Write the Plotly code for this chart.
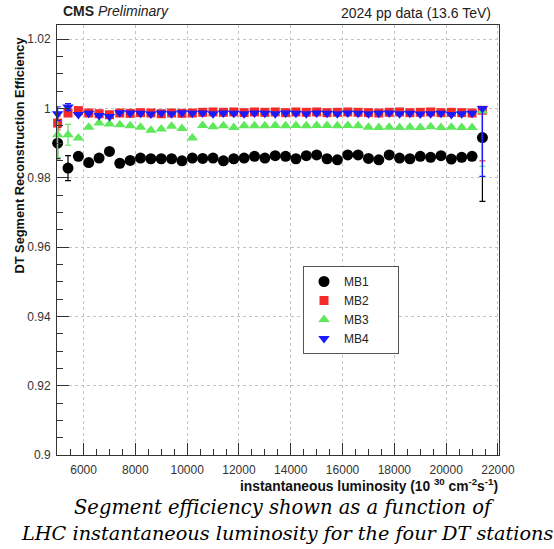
import plotly.graph_objects as go

# ---------------- data ----------------
lumi = [5000, 5400, 5800, 6200, 6600, 7000, 7400, 7800, 8200, 8600,
        9000, 9400, 9800, 10200, 10600, 11000, 11400, 11800, 12200, 12600,
        13000, 13400, 13800, 14200, 14600, 15000, 15400, 15800, 16200, 16600,
        17000, 17400, 17800, 18200, 18600, 19000, 19400, 19800, 20200, 20600,
        21000, 21400]

mb1 = [0.9900, 0.9828, 0.9862, 0.9844, 0.9857, 0.9876, 0.9842, 0.9850, 0.9857, 0.9855,
       0.9855, 0.9855, 0.9849, 0.9857, 0.9856, 0.9857, 0.9849, 0.9855, 0.9857, 0.9862,
       0.9857, 0.9864, 0.9862, 0.9855, 0.9864, 0.9866, 0.9855, 0.9852, 0.9866, 0.9866,
       0.9856, 0.9852, 0.9866, 0.9857, 0.9855, 0.9862, 0.9859, 0.9864, 0.9854, 0.9859,
       0.9862, 0.9916]
mb2 = [0.9958, 0.9987, 0.9994, 0.9987, 0.9985, 0.9982, 0.9987, 0.9986, 0.9988, 0.9987,
       0.9985, 0.9987, 0.9986, 0.9987, 0.9989, 0.9990, 0.9989, 0.9990, 0.9988, 0.9990,
       0.9989, 0.9990, 0.9988, 0.9990, 0.9989, 0.9990, 0.9988, 0.9989, 0.9990, 0.9989,
       0.9988, 0.9987, 0.9989, 0.9990, 0.9988, 0.9989, 0.9990, 0.9988, 0.9989, 0.9988,
       0.9987, 0.9995]
mb3 = [0.9924, 0.9924, 0.9915, 0.9946, 0.9958, 0.9955, 0.9953, 0.9950, 0.9946, 0.9937,
       0.9941, 0.9949, 0.9942, 0.9915, 0.9951, 0.9947, 0.9950, 0.9945, 0.9950, 0.9950,
       0.9950, 0.9951, 0.9950, 0.9951, 0.9950, 0.9951, 0.9951, 0.9950, 0.9951, 0.9950,
       0.9946, 0.9945, 0.9946, 0.9945, 0.9946, 0.9945, 0.9947, 0.9945, 0.9946, 0.9945,
       0.9945, 0.9993]
mb4 = [0.9985, 1.0004, 0.9983, 0.9986, 0.9980, 0.9977, 0.9988, 0.9987, 0.9986, 0.9984,
       0.9987, 0.9985, 0.9988, 0.9986, 0.9987, 0.9985, 0.9987, 0.9986, 0.9985, 0.9987,
       0.9986, 0.9985, 0.9987, 0.9986, 0.9985, 0.9987, 0.9986, 0.9985, 0.9987, 0.9986,
       0.9985, 0.9986, 0.9987, 0.9985, 0.9986, 0.9984, 0.9985, 0.9986, 0.9983, 0.9985,
       0.9986, 1.0000]

# asymmetric uncertainties (up, down)
mb1_up = [0.0045, 0.0036] + [0.0004] * 39 + [0.0080]
mb1_dn = [0.0045, 0.0036] + [0.0004] * 39 + [0.0184]
mb2_up = [0.0020, 0.0010] + [0.0002] * 39 + [0.0005]
mb2_dn = [0.0020, 0.0010] + [0.0002] * 39 + [0.0146]
mb3_up = [0.0065, 0.0030] + [0.0003] * 39 + [0.0007]
mb3_dn = [0.0065, 0.0030] + [0.0003] * 39 + [0.0160]
mb4_up = [0.0020, 0.0010] + [0.0002] * 39 + [0.0000]
mb4_dn = [0.0020, 0.0010] + [0.0002] * 39 + [0.0196]

series_names = ["MB1", "MB2", "MB3", "MB4"]
series_colors = ["#000000", "#f22a2a", "#5fe85a", "#1a1aff"]
series_symbols = ["circle", "square", "triangle-up", "triangle-down"]
series_sizes = [11, 9, 10, 10]

x_tick_vals = [6000, 8000, 10000, 12000, 14000, 16000, 18000, 20000, 22000]
y_tick_vals = [0.90, 0.92, 0.94, 0.96, 0.98, 1.00, 1.02]
y_tick_text = ["0.9", "0.92", "0.94", "0.96", "0.98", "1", "1.02"]

# ---------------- figure ----------------
W, H = 554, 549
L, R, T, B = 57, 55, 25, 94
PW, PH = W - L - R, H - T - B


def px_x(p):
    return (p - L) / PW


def px_y(p):
    return (H - B - p) / PH


fig = go.Figure()
values = [mb1, mb2, mb3, mb4]
ups = [mb1_up, mb2_up, mb3_up, mb4_up]
dns = [mb1_dn, mb2_dn, mb3_dn, mb4_dn]
pad_name = "\u00a0" * 7
for name, col, sym, sz, yv, eu, ed in zip(series_names, series_colors, series_symbols,
                                          series_sizes, values, ups, dns):
    fig.add_trace(go.Scatter(
        x=lumi, y=yv, mode="markers", name=name + pad_name, cliponaxis=False,
        marker=dict(color=col, symbol=sym, size=sz, line=dict(width=0)),
        error_y=dict(type="data", symmetric=False, array=eu, arrayminus=ed,
                     color=col, thickness=1.2, width=3),
    ))

font_main = "Liberation Sans, Arial, Helvetica, sans-serif"

fig.update_layout(
    width=W, height=H,
    margin=dict(l=L, r=R, t=T, b=B, pad=0),
    paper_bgcolor="white", plot_bgcolor="white",
    font=dict(family=font_main, size=12, color="#222"),
    showlegend=True,
    legend=dict(x=px_x(303), y=px_y(266), xanchor="left", yanchor="top",
                bgcolor="white", bordercolor="#555", borderwidth=1,
                font=dict(family=font_main, size=12, color="#222"),
                itemwidth=30, tracegroupgap=0),
    xaxis=dict(range=[4975, 22040], tickvals=x_tick_vals,
               ticktext=[str(v) for v in x_tick_vals],
               ticks="inside", ticklen=12, tickwidth=1, tickcolor="#333",
               showline=True, linecolor="#333", linewidth=1, mirror=True,
               showgrid=True, gridcolor="#c4c4c4", griddash="dot", gridwidth=1,
               zeroline=False, ticklabelstandoff=4,
               tickfont=dict(family=font_main, size=12, color="#333"),
               minor=dict(dtick=500, tick0=0, ticks="inside", ticklen=6,
                          tickcolor="#333", showgrid=False)),
    yaxis=dict(range=[0.9, 1.0241], tickvals=y_tick_vals, ticktext=y_tick_text,
               ticks="inside", ticklen=12, tickwidth=1, tickcolor="#333",
               showline=True, linecolor="#333", linewidth=1, mirror=True,
               showgrid=True, gridcolor="#c4c4c4", griddash="dot", gridwidth=1,
               zeroline=False, ticklabelstandoff=3,
               tickfont=dict(family=font_main, size=12, color="#333"),
               minor=dict(dtick=0.005, tick0=0.9, ticks="inside", ticklen=6,
                          tickcolor="#333", showgrid=False)),
)

ann = []
ann.append(dict(text="<b>CMS</b> <i>Preliminary</i>", xref="paper", yref="paper",
                x=px_x(61), y=px_y(11), xanchor="left", yanchor="middle",
                showarrow=False, font=dict(family=font_main, size=14, color="#222")))
ann.append(dict(text="2024 pp data (13.6 TeV)", xref="paper", yref="paper",
                x=px_x(493), y=px_y(13), xanchor="right", yanchor="middle",
                showarrow=False, font=dict(family=font_main, size=14, color="#222")))
ann.append(dict(text="<b>DT Segment Reconstruction Efficiency</b>", xref="paper", yref="paper",
                x=px_x(19), y=px_y(35), xanchor="center", yanchor="top", textangle=-90,
                showarrow=False, font=dict(family=font_main, size=12.8, color="#111")))
ann.append(dict(text="<b>instantaneous luminosity (10 <sup>30</sup> cm<sup>-2</sup>s<sup>-1</sup>)</b>",
                xref="paper", yref="paper", x=px_x(500), y=px_y(485),
                xanchor="right", yanchor="middle", showarrow=False,
                font=dict(family=font_main, size=13.8, color="#111")))
ann.append(dict(text="<i>Segment efficiency shown as a function of</i>", xref="paper", yref="paper",
                x=px_x(284), y=px_y(508), xanchor="center", yanchor="middle", showarrow=False,
                font=dict(family="DejaVu Serif, serif", size=19.5, color="#000")))
ann.append(dict(text="<i>LHC instantaneous luminosity for the four DT stations</i>", xref="paper",
                yref="paper", x=px_x(287), y=px_y(533), xanchor="center", yanchor="middle",
                showarrow=False, font=dict(family="DejaVu Serif, serif", size=19.3, color="#000")))
fig.update_layout(annotations=ann)

fig.write_html("out.html")
